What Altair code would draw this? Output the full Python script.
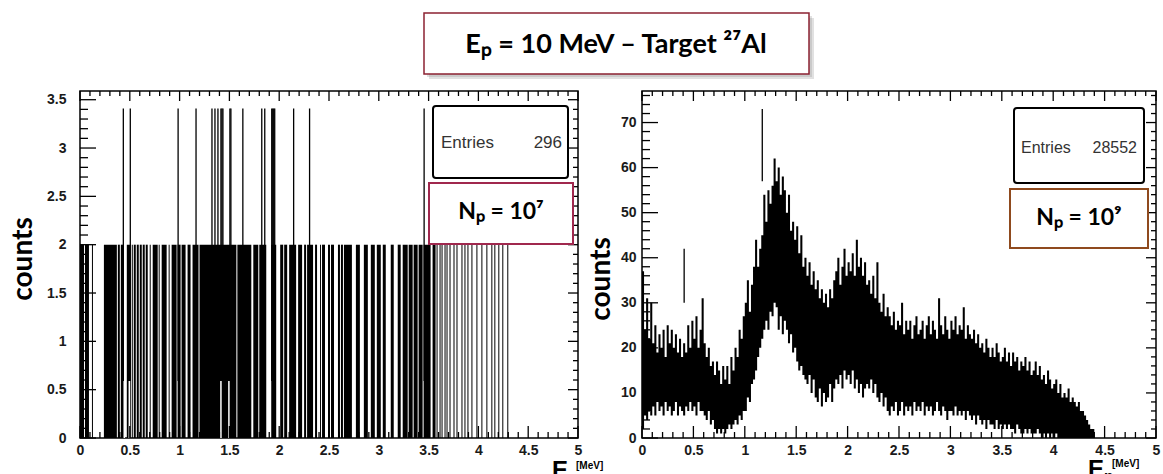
import altair as alt
import pandas as pd

# ---------------- data: left histogram (Np = 10^7) ----------------
# runs of filled bins (content = 2 counts), energies in MeV
left_run_start = [0.00, 0.05, 0.12, 0.24, 0.38, 0.41, 0.47, 0.52, 0.54, 0.57, 0.60, 0.63, 0.66, 0.70,
                  0.73, 0.79, 0.82, 0.89, 0.92, 0.98, 1.02, 1.08, 1.13, 1.20, 1.58, 1.74, 1.80, 1.92,
                  2.01, 2.05, 2.10, 2.19, 2.25, 2.28, 2.36, 2.41, 2.43, 2.49, 2.52, 2.59, 2.62, 2.65,
                  2.77, 2.85, 2.92, 2.98, 3.04, 3.12, 3.19, 3.24, 3.30, 3.35, 3.40, 3.45, 3.54]
left_run_end = [0.04, 0.09, 0.13, 0.37, 0.40, 0.44, 0.51, 0.53, 0.56, 0.59, 0.62, 0.65, 0.68, 0.71,
                0.78, 0.80, 0.87, 0.90, 0.97, 1.01, 1.06, 1.11, 1.19, 1.57, 1.72, 1.79, 1.87, 1.97,
                2.04, 2.08, 2.17, 2.23, 2.27, 2.34, 2.38, 2.42, 2.46, 2.51, 2.55, 2.61, 2.64, 2.73,
                2.81, 2.89, 2.96, 3.02, 3.07, 3.15, 3.22, 3.29, 3.34, 3.39, 3.44, 3.52, 3.57]
# isolated single filled bins (lower edge, MeV)
left_single_bins = [3.58, 3.61, 3.63, 3.66, 3.68, 3.71, 3.75, 3.78, 3.83, 3.86, 3.89, 3.93,
                    3.98, 4.03, 4.08, 4.13, 4.16, 4.20, 4.24, 4.29]
LEFT_BIN_W = 0.01
LEFT_CONTENT = 2.0
# bins whose error bars reach above the bar
left_tall_bins = [0.43, 0.50, 0.98, 1.16, 1.32, 1.35, 1.38, 1.41, 1.42, 1.43, 1.50, 1.51, 1.63,
                  1.82, 1.85, 1.92, 1.93, 1.94, 1.95, 2.14, 2.30, 3.45]
LEFT_ERR_LO = 0.59
LEFT_ERR_HI = 3.41
# short white gaps at the bottom
left_gap_bins = [0.44, 0.49, 1.41, 1.49]

# ---------------- data: right histogram (Np = 10^9) ----------------
RIGHT_BIN_W = 0.02
right_hi = [37, 24, 31, 22, 30, 21, 25, 19, 23, 20, 24, 18, 25, 21, 24, 20, 23, 19, 22, 18,
            21, 19, 25, 20, 26, 22, 27, 20, 24, 31, 21, 18, 20, 16, 17, 14, 17, 15, 12, 16,
            13, 16, 12, 18, 15, 20, 18, 24, 22, 27, 30, 35, 28, 34, 38, 44, 38, 42, 45, 54,
            48, 55, 52, 56, 62, 57, 60, 54, 58, 55, 50, 54, 46, 48, 44, 47, 41, 45, 38, 40,
            36, 39, 34, 37, 33, 35, 31, 33, 30, 32, 29, 33, 31, 35, 37, 40, 34, 38, 42, 36,
            39, 37, 41, 36, 44, 38, 40, 36, 39, 34, 35, 32, 36, 31, 39, 30, 28, 32, 27, 29,
            27, 25, 28, 24, 26, 25, 30, 23, 26, 24, 26, 22, 25, 27, 23, 24, 26, 22, 25, 27,
            23, 26, 24, 22, 31, 25, 23, 27, 24, 22, 26, 24, 27, 23, 25, 24, 29, 22, 25, 23,
            22, 24, 21, 23, 20, 21, 19, 22, 20, 18, 20, 18, 21, 19, 17, 18, 20, 17, 19, 16,
            19, 17, 18, 15, 17, 16, 18, 15, 17, 14, 15, 17, 14, 16, 13, 14, 12, 15, 13, 11,
            12, 13, 10, 12, 9, 10, 9, 11, 8, 9, 8, 7, 8, 6, 6, 5, 4, 3, 2, 2]
right_lo = [2, 5, 4, 6, 5, 7, 5, 8, 6, 7, 5, 8, 6, 7, 5, 6, 8, 5, 7, 6,
            5, 7, 6, 8, 6, 7, 5, 8, 6, 6, 5, 4, 6, 3, 4, 2, 1, 2, 1, 2,
            1, 2, 3, 2, 3, 4, 3, 5, 4, 6, 6, 9, 8, 12, 13, 15, 18, 20, 22, 24,
            26, 24, 28, 27, 30, 29, 24, 27, 23, 26, 24, 21, 23, 19, 20, 17, 15, 16, 14, 13,
            12, 14, 10, 13, 9, 8, 11, 7, 10, 8, 9, 12, 8, 11, 13, 12, 14, 11, 15, 13,
            14, 12, 15, 11, 13, 10, 12, 9, 11, 12, 11, 13, 10, 12, 9, 8, 10, 7, 9, 6,
            5, 7, 6, 8, 5, 6, 8, 5, 7, 6, 7, 5, 8, 6, 7, 6, 8, 5, 7, 6,
            7, 5, 6, 8, 6, 5, 7, 6, 4, 6, 6, 5, 7, 5, 6, 5, 6, 4, 6, 5,
            4, 5, 3, 5, 4, 3, 4, 2, 4, 3, 3, 2, 4, 2, 3, 2, 3, 2, 3, 2,
            2, 1, 3, 2, 1, 1, 2, 1, 2, 1, 1, 1, 2, 1, 0, 1, 0, 1, 0, 1,
            0, 1, 0, 0, 0, 0, 0, 0, 0, 0, 0, 0, 0, 0, 0, 0, 0, 0, 0, 0]
# isolated error bars above the band
right_spike_e = [0.41, 1.17]
right_spike_lo = [30, 57]
right_spike_hi = [42, 73]

# ---------------- axis ticks ----------------
X_MAJOR = [0, 0.5, 1, 1.5, 2, 2.5, 3, 3.5, 4, 4.5, 5]
X_MINOR = [round(i * 0.1, 1) for i in range(51)]
LEFT_Y_MAJOR = [0, 0.5, 1, 1.5, 2, 2.5, 3, 3.5]
LEFT_Y_MINOR = [round(i * 0.1, 1) for i in range(36)]
RIGHT_Y_MAJOR = [0, 10, 20, 30, 40, 50, 60, 70]
RIGHT_Y_MINOR = list(range(0, 77, 2))
X_DOM = [0, 5]

# ---------------- tables ----------------
left_bars = pd.DataFrame({
    "s": left_run_start + left_single_bins,
    "e": left_run_end + [round(b + LEFT_BIN_W, 3) for b in left_single_bins],
})
left_bars["lo"] = 0.0
left_bars["hi"] = LEFT_CONTENT
left_rules = pd.DataFrame({"c": [b + LEFT_BIN_W / 2 for b in left_tall_bins]})
left_rules["lo"] = LEFT_ERR_LO
left_rules["hi"] = LEFT_ERR_HI
left_gaps = pd.DataFrame({"c": [b + LEFT_BIN_W / 2 for b in left_gap_bins]})
left_gaps["lo"] = 0.0
left_gaps["hi"] = LEFT_ERR_LO

right_edges = [round(i * RIGHT_BIN_W, 2) for i in range(len(right_hi))]
right_area = pd.DataFrame({
    "s": right_edges + [round(len(right_hi) * RIGHT_BIN_W, 2)],
    "lo": right_lo + [right_lo[-1]],
    "hi": right_hi + [right_hi[-1]],
})
right_rules = pd.DataFrame({"c": right_spike_e, "lo": right_spike_lo, "hi": right_spike_hi})

LABEL_FONT = "Liberation Sans"
TEXT_FONT = "Lato"


def axis(orient, values, pad):
    return alt.Axis(orient=orient, values=values, ticks=False, domain=False, grid=False,
                    title=None, labelFont=LABEL_FONT, labelFontWeight="bold",
                    labelFontSize=14, labelColor="#1a1a1a", labelPadding=pad,
                    labelOverlap=False, labelFlush=False,
                    labelExpr="format(datum.value, '~g')")


def one():
    return pd.DataFrame({"k": [0]})


def box(x1, x2, y1, y2, stroke=None, sw=0, fill="white", radius=0, opacity=1.0):
    kw = dict(fill=fill, cornerRadius=radius, opacity=opacity)
    if stroke:
        kw.update(stroke=stroke, strokeWidth=sw)
    return alt.Chart(one()).mark_rect(**kw).encode(
        x=alt.value(x1), x2=alt.value(x2), y=alt.value(y1), y2=alt.value(y2))


def label(text, x, y, size, font=TEXT_FONT, weight="bold", color="black",
          align="left", baseline="middle", angle=0):
    return alt.Chart(pd.DataFrame({"t": [text]})).mark_text(
        align=align, baseline=baseline, fontSize=size, font=font, fontWeight=weight,
        color=color, angle=angle).encode(x=alt.value(x), y=alt.value(y), text="t:N")


def panel(main, rules, gaps, ydom, ymaj, ymin, w, h, annots):
    xs = alt.Scale(domain=X_DOM, nice=False, zero=False)
    ys = alt.Scale(domain=ydom, nice=False, zero=False)
    ypx = (ydom[1] - ydom[0]) / h
    xpx = (X_DOM[1] - X_DOM[0]) / w
    y0, y1 = ydom
    half_x = 0.65 * xpx
    half_y = 0.65 * ypx
    # thin rectangles as inward-pointing tick marks
    trows = []
    for v in X_MINOR:
        major = v in X_MAJOR
        trows.append((v - half_x, v + half_x, y0, y0 + (12 if major else 6) * ypx))
        trows.append((v - half_x, v + half_x, y1 - (10 if major else 5) * ypx, y1))
    for v in ymin:
        major = v in ymaj
        trows.append((0.0, (16 if major else 8) * xpx, v - half_y, v + half_y))
        trows.append((5 - (10 if major else 5) * xpx, 5.0, v - half_y, v + half_y))
    tdf = pd.DataFrame(trows, columns=["s", "e", "lo", "hi"])

    layers = [main(xs, ys)]
    if gaps is not None:
        layers.append(alt.Chart(gaps).mark_rule(color="white", strokeWidth=1.5).encode(
            x=alt.X("c:Q", scale=xs, axis=None),
            y=alt.Y("lo:Q", scale=ys, axis=None), y2="hi:Q"))
    layers.append(alt.Chart(rules).mark_rule(color="black", strokeWidth=1.3).encode(
        x=alt.X("c:Q", scale=xs, axis=None),
        y=alt.Y("lo:Q", scale=ys, axis=None), y2="hi:Q"))
    layers.append(alt.Chart(tdf).mark_rect(color="black").encode(
        x=alt.X("s:Q", scale=xs, axis=None), x2="e:Q",
        y=alt.Y("lo:Q", scale=ys, axis=None), y2="hi:Q"))
    layers += annots
    return alt.layer(*layers).resolve_scale(x="independent", y="independent").resolve_axis(
        x="independent", y="independent").properties(width=w, height=h)


def left_main(xs, ys):
    return alt.Chart(left_bars).mark_rect(color="black").encode(
        x=alt.X("s:Q", scale=xs, axis=axis("bottom", X_MAJOR, 5)),
        x2="e:Q",
        y=alt.Y("lo:Q", scale=ys, axis=axis("left", LEFT_Y_MAJOR, 14)),
        y2="hi:Q")


def right_main(xs, ys):
    return alt.Chart(right_area).mark_area(color="black", interpolate="step-after").encode(
        x=alt.X("s:Q", scale=xs, axis=axis("bottom", X_MAJOR, 5)),
        y=alt.Y("hi:Q", scale=ys, axis=axis("left", RIGHT_Y_MAJOR, 6)),
        y2="lo:Q")


left_annots = [
    box(-79, -1, -90, -1, opacity=0),  # layout anchor (invisible)
    box(349, 734, -73, -12, fill="#888888", opacity=0.25),
    box(347, 732, -75, -14, fill="#888888", opacity=0.25),
    box(344, 729, -78, -17, stroke="#8c2232", sw=1.5),
    label("Eₚ = 10 MeV – Target ²⁷Al", 536, -46, 27, align="center"),
    box(353, 488, 15, 87, stroke="black", sw=2, radius=3),
    label("Entries", 361, 52, 17, font=LABEL_FONT, weight="normal", color="#333333"),
    label("296", 482, 52, 17, font=LABEL_FONT, weight="normal", color="#333333", align="right"),
    box(349, 493, 92, 153, stroke="#a0284e", sw=2),
    label("Nₚ = 10⁷", 421, 121, 23, align="center"),
    label("counts", -56, 168, 28, angle=270, align="center"),
    label("E", 472, 368, 24, font=LABEL_FONT, baseline="top"),
    label("n", 488, 379, 15, font=LABEL_FONT, baseline="top"),
    label("[MeV]", 496, 370, 10, font=LABEL_FONT, baseline="top"),
]

right_annots = [
    box(372, 502, 17, 92, stroke="black", sw=2, radius=3),
    label("Entries", 379, 57, 16, font=LABEL_FONT, weight="normal", color="#333333"),
    label("28552", 495, 57, 16, font=LABEL_FONT, weight="normal", color="#333333", align="right"),
    box(368, 506, 98, 157, stroke="#8f4a1e", sw=2),
    label("Nₚ = 10⁹", 437, 127, 23, align="center"),
    label("counts", -40, 188, 28, angle=270, align="center"),
    label("E", 446, 367, 24, font=LABEL_FONT, baseline="top"),
    label("n", 462, 378, 15, font=LABEL_FONT, baseline="top"),
    label("[MeV]", 470, 368, 10, font=LABEL_FONT, baseline="top"),
]

left = panel(left_main, left_rules, left_gaps, [0, 3.59], LEFT_Y_MAJOR, LEFT_Y_MINOR,
             498, 347, left_annots)
right = panel(right_main, right_rules, None, [0, 77], RIGHT_Y_MAJOR, RIGHT_Y_MINOR,
              514, 347, right_annots)

chart = alt.hconcat(left, right, spacing=64, bounds="flush").configure_view(
    stroke="black", strokeWidth=1.5
).properties(padding={"left": 0, "top": 0, "right": 0, "bottom": 0}, background="white")

chart.save("out.html", embed_options={"renderer": "svg", "actions": False})
